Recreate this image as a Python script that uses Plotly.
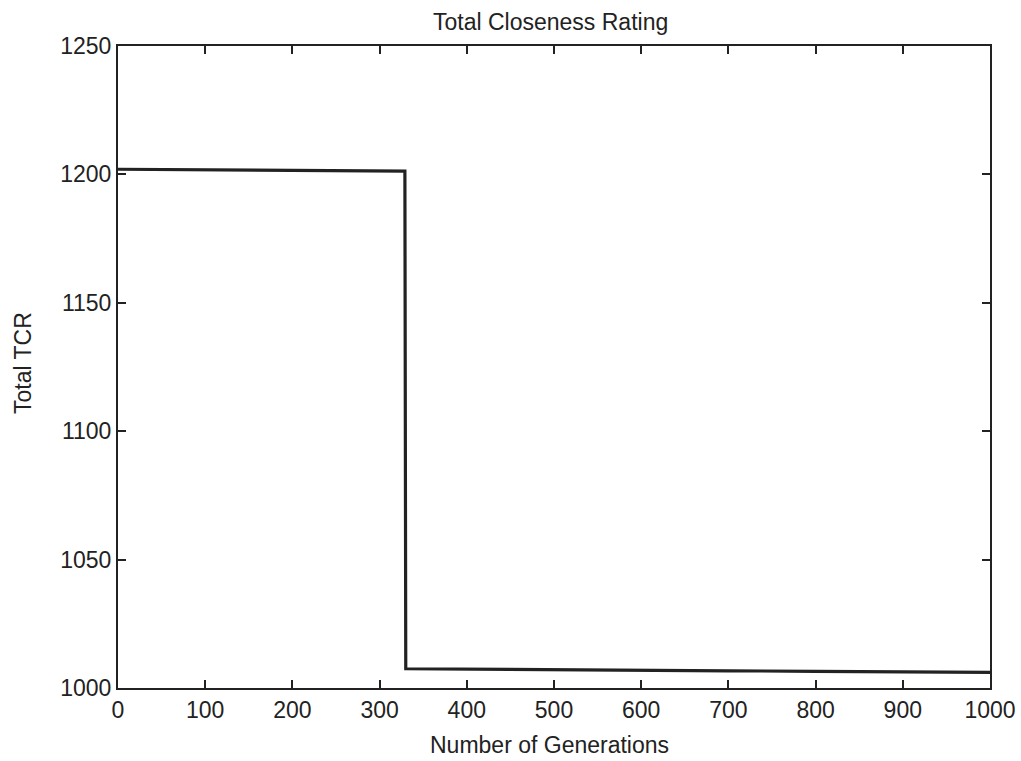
import plotly.graph_objects as go

# Data
generations = [0, 100, 200, 300, 329, 330, 400, 500, 600, 700, 800, 900, 1000]
total_tcr = [1202, 1201.8, 1201.6, 1201.4, 1201.3, 1007.5, 1007.3, 1007.1, 1006.9, 1006.7, 1006.5, 1006.3, 1006.1]

x_ticks = [0, 100, 200, 300, 400, 500, 600, 700, 800, 900, 1000]
y_ticks = [1000, 1050, 1100, 1150, 1200, 1250]

title_text = "Total Closeness Rating"
x_title = "Number of Generations"
y_title = "Total TCR"

font_family = "Liberation Sans, Arial, sans-serif"
ink = "#222222"

W, H = 1021, 761
L, R, T, B = 118, 31, 46, 73
pw, ph = W - L - R, H - T - B

fig = go.Figure()
fig.add_trace(go.Scatter(
    x=generations, y=total_tcr, mode="lines",
    line=dict(color=ink, width=3.2, shape="linear"),
    showlegend=False, hoverinfo="skip",
))

axis_common = dict(
    showgrid=False, zeroline=False, showline=True, linecolor=ink, linewidth=2,
    mirror="allticks", ticks="inside", ticklen=8, tickwidth=1.5, tickcolor=ink,
    tickfont=dict(family=font_family, size=23, color=ink), automargin=False,
)

fig.update_layout(
    width=W, height=H,
    paper_bgcolor="white", plot_bgcolor="white",
    margin=dict(l=L, r=R, t=T, b=B),
    font=dict(family=font_family, size=23, color=ink),
    xaxis=dict(range=[0, 1000], tickvals=x_ticks, ticktext=[str(v) for v in x_ticks],
               **axis_common),
    yaxis=dict(range=[1000, 1250], tickvals=y_ticks, ticktext=[str(v) for v in y_ticks],
               **axis_common),
    annotations=[
        dict(text=title_text, xref="paper", yref="paper",
             x=(550 - L) / pw, y=1 + (T - 22) / ph,
             xanchor="center", yanchor="middle", showarrow=False,
             font=dict(family=font_family, size=23, color=ink)),
        dict(text=x_title, xref="paper", yref="paper",
             x=(549 - L) / pw, y=-(745 - (H - B)) / ph,
             xanchor="center", yanchor="middle", showarrow=False,
             font=dict(family=font_family, size=23, color=ink)),
        dict(text=y_title, xref="paper", yref="paper",
             x=(23 - L) / pw, y=1 - (363 - T) / ph, textangle=-90,
             xanchor="center", yanchor="middle", showarrow=False,
             font=dict(family=font_family, size=23, color=ink)),
    ],
)

fig.write_html("out.html")
